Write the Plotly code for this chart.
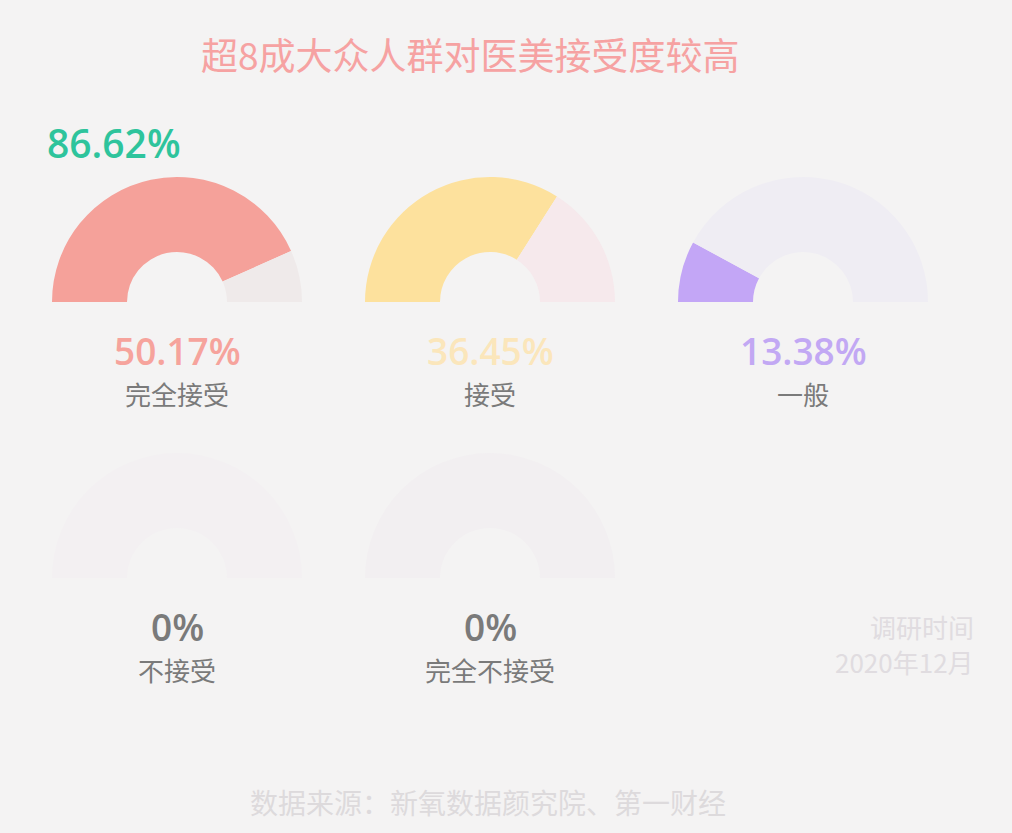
import plotly.graph_objects as go

W, H = 1012, 833

# ---- data ----
categories = ["完全接受", "接受", "一般", "不接受", "完全不接受"]
pct_labels = ["50.17%", "36.45%", "13.38%", "0%", "0%"]
arc_fill = [86.62, 68.0, 15.8, 0.0, 0.0]          # share of each half-ring that is coloured
total_label = "86.62%"
title_text = "超8成大众人群对医美接受度较高"
survey_lines = ["调研时间", "2020年12月"]
source_text = "数据来源：新氧数据颜究院、第一财经"

# ---- styles ----
fill_colors = ["#f5a19a", "#fde19d", "#c3a6f6", "#f4f1f3", "#f4f1f3"]
rest_colors = ["#efeaea", "#f6e9ec", "#efedf3", "#f3f0f2", "#f2eff1"]
pct_colors = ["#f6a39c", "#fbe6bb", "#c2a8f3", "#7a7a7a", "#7a7a7a"]
centers = [(177, 302), (490, 302), (803, 302), (177, 578), (490, 578)]
R = 125
BG = "#f4f3f3"
NUM_FONT = "Open Sans, Noto Sans, sans-serif"
CJK_FONT = "Noto Sans CJK SC"

def px(x):
    return x / W

def py(y):
    return 1 - y / H

fig = go.Figure()

for i, cat in enumerate(categories):
    cx, cy = centers[i]
    f = arc_fill[i]
    fig.add_trace(go.Pie(
        values=[f, 100 - f, 100],
        labels=[cat, "其他", "_"],
        marker=dict(colors=[fill_colors[i], rest_colors[i], "rgba(0,0,0,0)"],
                    line=dict(width=0)),
        hole=0.4,
        sort=False,
        direction="clockwise",
        rotation=270,
        textinfo="none",
        hoverinfo="skip",
        showlegend=False,
        domain=dict(x=[px(cx - R), px(cx + R)], y=[py(cy + R), py(cy - R)]),
    ))
    fig.add_annotation(x=px(cx), y=py(cy + 48), xref="paper", yref="paper",
                       text=pct_labels[i], showarrow=False,
                       font=dict(family=NUM_FONT, size=37, color=pct_colors[i], weight=600),
                       xanchor="center", yanchor="middle")
    fig.add_annotation(x=px(cx), y=py(cy + 91), xref="paper", yref="paper",
                       text=cat, showarrow=False,
                       font=dict(family=CJK_FONT, size=26, color="#7a7a7a"),
                       xanchor="center", yanchor="middle")

# title
fig.add_annotation(x=px(470), y=py(54), xref="paper", yref="paper", text=title_text,
                   showarrow=False, font=dict(family=CJK_FONT, size=37, color="#f6a2a2"),
                   xanchor="center", yanchor="middle")
# total
fig.add_annotation(x=px(45), y=py(142), xref="paper", yref="paper", text=total_label,
                   showarrow=False, font=dict(family=NUM_FONT, size=39, color="#2ec49c", weight=600),
                   xanchor="left", yanchor="middle")
# survey time
fig.add_annotation(x=px(976), y=py(626), xref="paper", yref="paper", text=survey_lines[0],
                   showarrow=False, font=dict(family=CJK_FONT, size=26, color="#e0dce0"),
                   xanchor="right", yanchor="middle")
fig.add_annotation(x=px(976), y=py(661), xref="paper", yref="paper", text=survey_lines[1],
                   showarrow=False, font=dict(family=CJK_FONT, size=26, color="#e0dce0"),
                   xanchor="right", yanchor="middle")
# source
fig.add_annotation(x=px(488), y=py(802), xref="paper", yref="paper", text=source_text,
                   showarrow=False, font=dict(family=CJK_FONT, size=28, color="#dddadc"),
                   xanchor="center", yanchor="middle")

fig.update_layout(
    width=W, height=H,
    margin=dict(l=0, r=0, t=0, b=0),
    paper_bgcolor=BG, plot_bgcolor=BG,
)

fig.write_html("out.html", config={"displayModeBar": False},
               post_script="document.body.style.margin='0';document.body.style.background='" + BG + "';")
